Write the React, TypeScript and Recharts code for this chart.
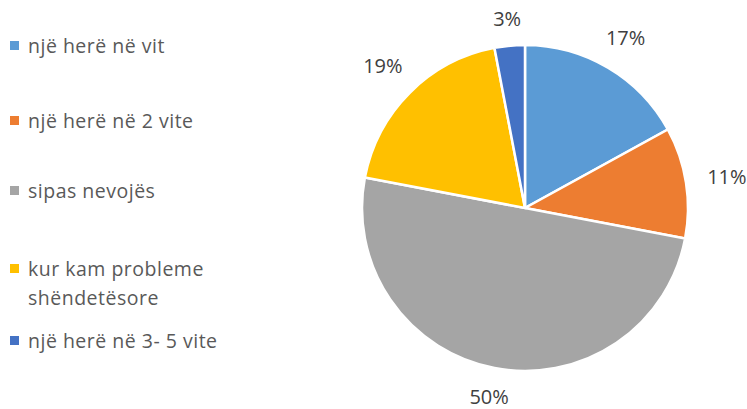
import React from 'react';
import { PieChart, Pie, Cell, Legend } from 'recharts';

const categories = [
  'një herë në vit',
  'një herë në 2 vite',
  'sipas nevojës',
  'kur kam probleme shëndetësore',
  'një herë në 3- 5 vite',
];
const shares = [17, 11, 50, 19, 3];
const colors = ['#5B9BD5', '#ED7D31', '#A5A5A5', '#FFC000', '#4472C4'];

const data = categories.map((name, i) => ({ name, value: shares[i] }));

const FONT = '"Open Sans", Lato, sans-serif';
const RAD = Math.PI / 180;

// label sits just outside the slice, pushed out by its box extent
const renderLabel = (props: any) => {
  const { cx, cy, midAngle, outerRadius, value } = props;
  const c = Math.cos(-midAngle * RAD);
  const s = Math.sin(-midAngle * RAD);
  const r = outerRadius + 21 + 20 * Math.abs(c) + 4 * Math.abs(s);
  return (
    <text x={cx + r * c} y={cy + r * s} fill="#404040" fontSize={20} fontFamily={FONT} textAnchor="middle" dominantBaseline="central">
      {`${value}%`}
    </text>
  );
};

const legendRows = [
  { lines: ['një herë në vit'], top: 31 },
  { lines: ['një herë në 2 vite'], top: 106 },
  { lines: ['sipas nevojës'], top: 176 },
  { lines: ['kur kam probleme', 'shëndetësore'], top: 254 },
  { lines: ['një herë në 3- 5 vite'], top: 326 },
];

const LegendContent = () => (
  <div style={{ position: 'relative', width: 280, height: 409, fontFamily: FONT, fontSize: 19.5, letterSpacing: 0.5, color: '#595959' }}>
    {legendRows.map((row, i) => (
      <div key={categories[i]} style={{ position: 'absolute', left: 10, top: row.top, lineHeight: '29px' }}>
        <span style={{ position: 'absolute', left: 0, top: 10, width: 9, height: 9, background: colors[i] }} />
        {row.lines.map((l) => (
          <div key={l} style={{ marginLeft: 18, whiteSpace: 'nowrap' }}>{l}</div>
        ))}
      </div>
    ))}
  </div>
);

export default function App() {
  return (
    <div style={{ position: 'absolute', left: 0, top: 0, background: '#fff' }}>
      <PieChart width={747} height={409} margin={{ top: 0, right: 0, bottom: 0, left: 0 }}>
        <Pie
          data={data}
          dataKey="value"
          nameKey="name"
          cx={525}
          cy={208}
          outerRadius={163}
          startAngle={90}
          endAngle={-270}
          stroke="#fff"
          strokeWidth={2.5}
          label={renderLabel}
          labelLine={false}
          isAnimationActive={false}
        >
          {data.map((d, i) => (
            <Cell key={d.name} fill={colors[i]} />
          ))}
        </Pie>
        <Legend content={<LegendContent />} wrapperStyle={{ left: 0, top: 0, width: 280, height: 409 }} />
      </PieChart>
    </div>
  );
}
